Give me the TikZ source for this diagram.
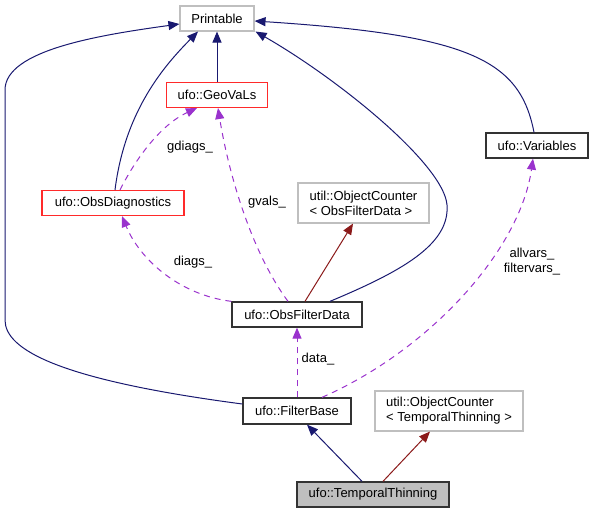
\documentclass[tikz,border=0pt]{standalone}
\usepackage{fontspec}
\setmainfont{Liberation Sans}
\usetikzlibrary{arrows.meta,calc}
\definecolor{navyc}{HTML}{191970}
\definecolor{darkredc}{HTML}{8B1A1A}
\definecolor{purplec}{HTML}{9A32CD}
\definecolor{redb}{HTML}{FF2A2A}
\definecolor{grayb}{HTML}{BFBFBF}
\tikzset{
  box/.style={draw, line width=1.3pt, inner sep=0pt, font=\fontsize{13}{15}\selectfont, align=left, fill=white},
  cls/.style={box, draw=black!80},
  redcls/.style={box, draw=redb, line width=1.1pt},
  graycls/.style={box, draw=grayb, line width=1.1pt},
  curcls/.style={box, draw=black!80, fill=grayb},
  lbl/.style={font=\fontsize{13}{15}\selectfont, align=center, inner sep=0pt},
  inh/.style={draw=navyc, line width=1pt, -{Triangle[length=11pt,width=9pt]}, navyc},
  tmpl/.style={draw=darkredc, line width=1pt, -{Triangle[length=11pt,width=9pt]}, darkredc},
  usage/.style={draw=purplec, line width=1pt, dash pattern=on 6pt off 5pt, -{Triangle[length=11pt,width=9pt]}, purplec},
}
\begin{document}
\begin{tikzpicture}[x=1pt,y=-1pt]
\useasboundingbox (0,0) rectangle (593,513);
% nodes
\node[graycls, minimum width=74pt, minimum height=25pt] (pr) at (217,18.5) {Printable};
\node[redcls, minimum width=101pt, minimum height=25pt] (geo) at (217,95) {ufo::GeoVaLs};
\node[redcls, minimum width=142pt, minimum height=25pt] (od) at (113,203) {ufo::ObsDiagnostics};
\node[cls, minimum width=102pt, minimum height=25pt] (var) at (537,145.5) {ufo::Variables};
\node[graycls, minimum width=131pt, minimum height=40pt] (ocofd) at (363.5,203) {util::ObjectCounter\\< ObsFilterData >};
\node[cls, minimum width=130pt, minimum height=25pt] (ofd) at (297,314.5) {ufo::ObsFilterData};
\node[cls, minimum width=108pt, minimum height=26pt] (fb) at (297,411) {ufo::FilterBase};
\node[graycls, minimum width=148pt, minimum height=40pt] (octt) at (449,411) {util::ObjectCounter\\< TemporalThinning >};
\node[curcls, minimum width=152pt, minimum height=25pt] (tt) at (373,494.5) {ufo::TemporalThinning};
% inheritance edges
\draw[inh] ([yshift=7pt]fb.west) .. controls (60,380) and (5,350) .. (5,320) -- (5,90) .. controls (5,50) and (100,35) .. ([yshift=-5.5pt]pr.west);
\draw[inh] ([xshift=2pt]od.north) .. controls (125,110) and (165,65) .. ([xshift=-19pt]pr.south);
\draw[inh] (geo.north) -- (pr.south);
\draw[inh] ([xshift=33pt]ofd.north) .. controls (400,272) and (450,245) .. (447,205) .. controls (444,165) and (340,80) .. ([xshift=1pt]pr.south east);
\draw[inh] ([xshift=-3pt]var.north) .. controls (520,60) and (470,35) .. ([yshift=-2.5pt]pr.east);
\draw[inh] ([xshift=-11pt]tt.north) -- ([xshift=10pt]fb.south);
% template edges
\draw[tmpl] ([xshift=8pt]ofd.north) -- ([xshift=-10.5pt]ocofd.south);
\draw[tmpl] ([xshift=10pt]tt.north) -- ([xshift=-19pt]octt.south);
% usage edges
\draw[usage] ([xshift=7pt]od.north) .. controls (135,160) and (160,125) .. ([xshift=-20pt]geo.south);
\draw[usage] ([xshift=-9pt]ofd.north) .. controls (250,250) and (228,170) .. ([xshift=1pt]geo.south);
\draw[usage] (ofd.north west) .. controls (180,295) and (140,260) .. ([xshift=9pt]od.south);
\draw[usage] (fb.north) -- (ofd.south);
\draw[usage] ([xshift=25pt]fb.north) .. controls (430,350) and (520,250) .. ([xshift=-4pt]var.south);
% labels
\node[lbl] (lgd) at (190,147) {gdiags\_};
\node[lbl] (lgv) at (267,202) {gvals\_};
\node[lbl] (ldg) at (193,262) {diags\_};
\node[lbl] (ldt) at (318,359) {data\_};
\node[lbl] (lav) at (532,262) {allvars\_\\filtervars\_};
\end{tikzpicture}
\end{document}
